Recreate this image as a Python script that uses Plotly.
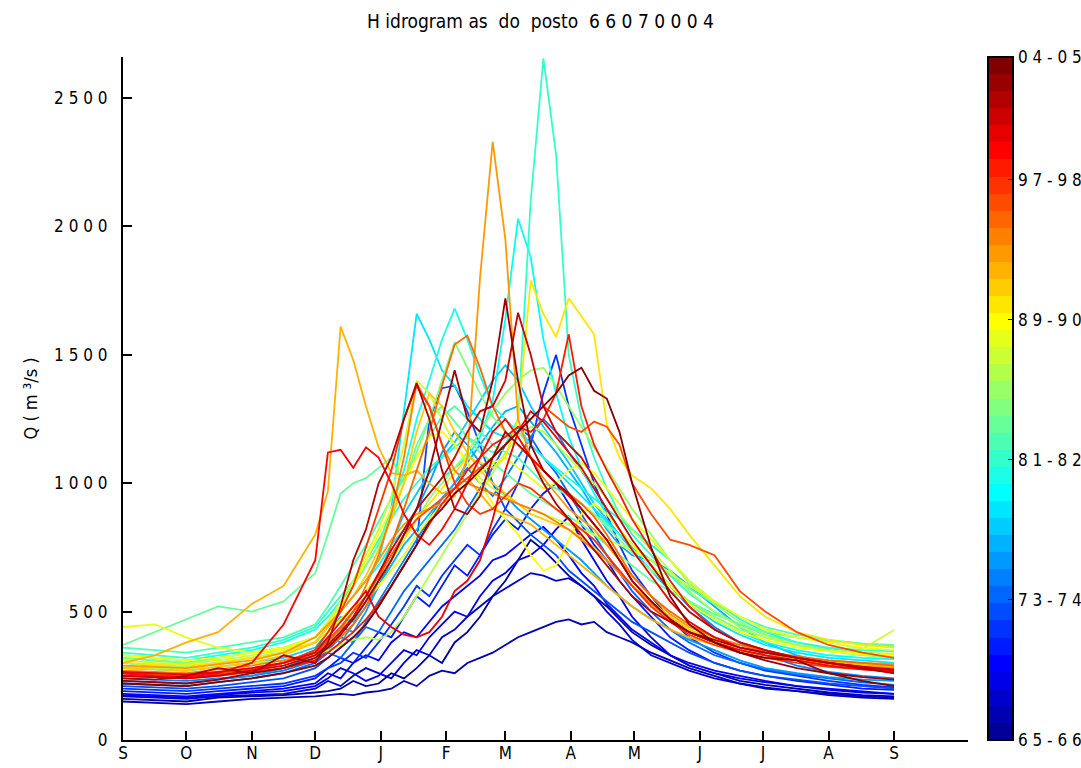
import math
import plotly.graph_objects as go

# ---------------- data ----------------
days = [0, 15, 30, 45, 61, 76, 91,
        97, 103, 109, 115, 121, 127, 133, 139, 145, 151, 157, 163, 169, 175, 181, 187,
        193, 199, 205, 211, 217, 223, 229, 235, 241,
        250, 259, 268, 280, 292, 304, 319, 334, 350, 365]

month_days = [0, 30, 61, 91, 122, 153, 181, 212, 242, 273, 303, 334, 365]
month_labels = ["S", "O", "N", "D", "J", "F", "M", "A", "M", "J", "J", "A", "S"]

y_ticks = [0, 500, 1000, 1500, 2000, 2500]
y_labels = ["0", "5 0 0", "1 0 0 0", "1 5 0 0", "2 0 0 0", "2 5 0 0"]

cb_ticks = [1, 9, 17, 25, 33, 40]
cb_labels = ["6 5 - 6 6", "7 3 - 7 4", "8 1 - 8 2", "8 9 - 9 0", "9 7 - 9 8", "0 4 - 0 5"]

q1965 = [160,155,150,165,170,175,185, 190,200,230,210,220,260,240,280,330,300,380,420,480,560,620,700,780,740,690,640,600,560,520,470,420, 370,330,290,260,230,215,200,185,175,170]
q1966 = [150,145,140,150,160,165,170, 175,180,175,185,190,200,230,210,250,270,260,300,320,340,370,400,420,440,460,470,450,460,420,400,380, 340,310,280,250,220,200,190,175,165,160]
q1967 = [170,165,160,170,175,180,200, 230,210,250,280,260,240,300,350,330,400,430,480,520,560,590,620,650,640,620,630,600,560,500,450,390, 330,300,270,240,220,205,190,180,170,165]
q1968 = [175,170,165,175,185,190,210, 240,280,260,230,250,300,350,330,400,450,500,480,560,620,650,700,720,760,820,870,780,700,620,560,480, 400,330,290,260,240,225,210,195,185,180]
q1969 = [180,175,170,180,190,200,220, 260,240,300,330,310,380,420,400,460,520,560,600,640,700,720,760,800,830,780,720,650,600,530,480,430, 380,330,300,270,250,230,210,200,190,180]
q1970 = [190,185,180,190,200,210,240, 280,320,300,360,420,400,480,560,520,600,680,640,720,800,860,820,900,960,1000,920,840,760,700,620,560, 480,400,350,300,270,250,230,215,200,195]
q1971 = [200,195,190,200,210,220,250, 280,300,340,320,380,450,520,600,560,640,700,760,720,820,900,1000,1150,1350,1500,1300,1150,1000,880,760,660, 560,470,400,340,300,270,250,230,215,205]
q1972 = [210,205,200,210,225,240,280, 320,360,400,450,520,600,680,760,1250,1370,1380,1280,1150,1000,900,850,800,760,720,660,620,580,540,500,460, 420,380,340,300,270,250,235,220,210,200]
q1973 = [220,215,210,225,240,260,300, 340,320,380,440,420,500,580,640,700,760,820,900,980,1060,1150,1220,1180,1100,1040,960,880,800,720,650,580, 500,430,380,330,300,275,255,240,225,215]
q1974 = [240,235,230,240,250,270,310, 350,400,380,460,540,620,700,780,860,940,1000,1060,1000,950,1020,1100,1180,1250,1200,1120,1050,980,900,820,760, 680,600,520,440,380,330,290,265,250,240]
q1975 = [230,225,220,235,250,280,330, 380,440,420,500,600,700,800,900,1000,1120,1200,1150,1080,1000,950,900,860,820,780,740,700,650,600,560,520, 470,430,390,350,310,280,260,245,235,230]
q1976 = [260,255,250,260,275,300,350, 400,380,450,520,600,680,760,820,880,940,1000,1080,1150,1220,1280,1300,1240,1180,1120,1050,980,900,820,760,720, 700,660,600,520,440,380,330,300,280,270]
q1977 = [280,275,270,285,300,320,360, 420,480,460,540,640,760,880,960,1040,1100,1160,1240,1320,1400,1460,1400,1300,1220,1150,1080,1000,920,860,800,740, 660,580,500,430,380,340,310,290,280,275]
q1978 = [300,290,285,300,320,340,380, 440,500,560,620,700,900,1280,1660,1560,1440,1380,1300,1250,1200,1180,1220,1150,1100,1050,1000,950,900,850,800,750, 680,600,530,460,410,370,340,320,310,300]
q1979 = [320,310,300,320,340,360,400, 450,500,560,620,680,760,820,900,960,1020,1060,1100,1180,1320,1640,2030,1880,1560,1350,1180,1060,960,880,820,760, 680,600,540,470,420,380,350,330,320,315]
q1980 = [330,320,310,330,350,380,430, 480,540,600,680,760,900,1050,1250,1400,1560,1680,1560,1420,1300,1250,1200,1150,1100,1060,1020,980,940,900,860,820, 760,700,620,540,470,420,380,355,340,330]
q1981 = [340,330,320,340,360,390,440, 500,560,620,700,780,860,940,1000,1060,1100,1140,1180,1150,1120,1150,1250,2100,2655,2280,1500,1250,1100,980,880,800, 720,640,570,500,450,410,380,360,350,345]
q1982 = [360,350,340,360,380,400,450, 520,600,680,760,850,940,1020,1100,1180,1260,1300,1250,1200,1150,1120,1100,1050,1000,980,950,920,880,840,800,760, 700,640,590,530,480,440,410,390,375,365]
q1983 = [370,420,470,520,500,540,650, 800,960,1000,1020,1060,1100,1000,1150,1250,1300,1240,1180,1120,1080,1040,1000,960,930,900,870,840,800,760,720,680, 620,580,540,490,450,420,400,385,375,370]
q1984 = [320,310,300,320,340,360,400, 460,520,600,680,760,880,1000,1120,1250,1400,1550,1450,1350,1260,1200,1150,1100,1050,1000,960,920,880,830,780,730, 660,600,540,480,430,400,370,350,335,325]
q1985 = [300,290,285,300,320,340,380, 420,460,500,560,620,700,780,860,940,1000,1060,1120,1200,1280,1350,1400,1440,1450,1380,1300,1220,1140,1060,980,900, 800,700,610,530,460,410,370,345,330,320]
q1986 = [290,280,275,285,300,310,330, 350,370,390,400,390,420,480,560,640,720,800,880,960,1040,1120,1180,1220,1200,1150,1100,1050,1000,940,880,820, 740,660,580,500,440,400,370,350,340,335]
q1987 = [310,300,295,310,330,350,400, 460,540,620,720,820,950,1150,1400,1350,1250,1150,1080,1020,980,950,920,900,880,860,840,820,800,780,760,740, 700,650,600,540,480,430,400,380,355,428]
q1988 = [440,450,400,360,340,350,380, 420,460,500,540,600,660,720,800,860,920,960,1000,1040,1080,1100,1060,1020,980,1000,1050,1080,1040,980,920,860, 780,700,620,540,480,430,400,380,360,350]
q1989 = [330,320,310,320,340,360,400, 450,520,600,700,800,900,1000,1100,1180,1200,1150,1080,1000,920,860,800,720,660,680,780,880,920,880,820,760, 680,600,530,470,420,390,360,345,335,330]
q1990 = [300,295,290,300,320,340,380, 420,470,520,580,640,700,780,860,920,980,1040,1100,1080,1060,1100,1250,1790,1660,1570,1720,1650,1580,1230,1100,1030, 980,900,800,680,560,480,420,390,370,360]
q1991 = [280,275,270,285,300,330,380, 440,500,560,640,740,860,1000,1200,1350,1300,1200,1120,1050,1000,960,920,880,860,840,820,790,750,700,650,600, 540,480,430,390,360,340,320,305,295,290]
q1992 = [300,330,380,420,530,600,800, 970,1610,1480,1300,1140,1040,1030,1050,1000,960,980,1020,960,900,880,860,840,800,760,720,680,640,600,560,520, 470,430,400,370,350,330,315,300,290,285]
q1993 = [290,285,280,295,310,340,400, 450,500,560,620,700,780,840,880,900,920,950,1100,1800,2330,1950,1250,1100,1020,960,900,860,820,760,700,640, 560,490,440,400,370,345,325,310,300,295]
q1994 = [270,265,260,275,290,310,340, 380,430,500,600,720,880,1100,1390,1300,1150,1050,1000,980,960,940,920,900,880,850,820,780,740,700,650,600, 530,470,420,380,350,330,310,295,285,280]
q1995 = [260,255,250,265,280,300,330, 360,400,450,520,620,760,900,1050,1200,1380,1540,1575,1450,1300,1200,1150,1100,1050,1000,960,920,870,800,720,640, 560,500,450,400,370,345,325,310,300,290]
q1996 = [260,255,250,260,275,300,340, 390,440,500,560,640,720,800,860,900,940,980,1020,1060,1100,1150,1200,1250,1300,1260,1220,1200,1240,1220,1150,1000, 880,780,760,720,580,500,420,370,340,320]
q1997 = [250,245,240,255,270,300,350, 420,500,600,750,900,1050,1250,1380,1300,1150,1000,920,880,900,950,1000,980,940,900,860,820,780,720,660,600, 520,460,410,370,340,320,300,285,275,270]
q1998 = [250,245,240,250,265,280,310, 340,380,420,470,530,600,680,760,840,920,980,1050,1100,1150,1180,1220,1200,1250,1350,1580,1300,1150,1050,960,860, 740,620,520,430,380,350,320,300,285,270]
q1999 = [260,250,245,260,300,450,700, 1120,1130,1060,1140,1100,1000,880,800,760,820,900,1000,1100,1200,1250,1180,1100,1050,1000,950,900,840,780,700,620, 540,470,420,380,350,330,310,290,275,265]
q2000 = [265,260,255,265,280,300,340, 400,460,520,580,480,440,410,400,420,480,580,620,700,860,1050,1200,1280,1240,1180,1120,1060,980,900,820,740, 640,540,460,400,360,340,320,300,285,270]
q2001 = [250,245,240,250,270,290,330, 370,420,480,560,650,740,820,900,960,1020,1100,1200,1280,1300,1400,1664,1500,1300,1200,1150,1100,1020,940,860,780, 680,580,500,430,380,350,320,300,285,275]
q2002 = [240,235,250,280,260,330,300, 380,520,700,820,1000,1100,1250,1390,1250,1050,900,880,950,1100,1200,1150,1100,1000,920,860,800,740,680,620,560, 500,460,420,390,360,340,320,300,280,260]
q2003 = [230,225,220,235,260,280,320, 360,410,470,540,620,700,800,900,1050,1250,1440,1250,1200,1400,1720,1400,1150,1050,1000,960,900,840,780,700,620, 540,470,420,380,340,310,280,260,245,235]
q2004 = [220,215,210,225,240,260,290, 320,360,400,450,520,600,680,760,850,900,960,1000,1050,1100,1150,1200,1250,1300,1350,1420,1450,1360,1330,1200,1000, 750,560,450,380,340,320,310,260,230,210]

series = [q1965, q1966, q1967, q1968, q1969, q1970, q1971, q1972, q1973, q1974,
          q1975, q1976, q1977, q1978, q1979, q1980, q1981, q1982, q1983, q1984,
          q1985, q1986, q1987, q1988, q1989, q1990, q1991, q1992, q1993, q1994,
          q1995, q1996, q1997, q1998, q1999, q2000, q2001, q2002, q2003, q2004]
start_years = list(range(1965, 2005))

for s in series:
    assert len(s) == len(days), len(s)


# ---------------- style ----------------
def jet(m):
    n = math.ceil(m / 4)
    u = [i / n for i in range(1, n + 1)] + [1.0] * (n - 1) + [i / n for i in range(n, 0, -1)]
    off = math.ceil(n / 2) - (1 if m % 4 == 1 else 0)
    g = [off + j for j in range(1, len(u) + 1)]
    r = [x + n for x in g]
    b = [x - n for x in g]
    J = [[0.0, 0.0, 0.0] for _ in range(m)]
    for j, val in enumerate(u):
        if 1 <= r[j] <= m:
            J[r[j] - 1][0] = val
        if 1 <= g[j] <= m:
            J[g[j] - 1][1] = val
        if 1 <= b[j] <= m:
            J[b[j] - 1][2] = val
    return ["rgb(%d,%d,%d)" % tuple(round(255 * c) for c in row) for row in J]


N = len(series)
cols = jet(N)
FONT = "Liberation Sans Narrow, Arial Narrow, DejaVu Sans Condensed, sans-serif"

fig = go.Figure()
for y0, vals, c in zip(start_years, series, cols):
    lab = "%02d-%02d" % (y0 % 100, (y0 + 1) % 100)
    fig.add_trace(go.Scatter(x=days, y=vals, mode="lines", name=lab,
                             line=dict(color=c, width=1.8), showlegend=False,
                             hoverinfo="name+x+y"))

colorscale = []
for k, c in enumerate(cols):
    colorscale.append([k / N, c])
    colorscale.append([(k + 1) / N, c])

fig.add_trace(go.Scatter(
    x=[None, None], y=[None, None], mode="markers", showlegend=False, hoverinfo="skip",
    marker=dict(color=[1, N], cmin=1, cmax=N, colorscale=colorscale, showscale=True,
                colorbar=dict(x=1 + (988 - 968) / 845, xanchor="left", xpad=0,
                              y=1, yanchor="top", ypad=0,
                              len=683, lenmode="pixels", thickness=25,
                              outlinewidth=2, outlinecolor="black",
                              tickmode="array", tickvals=cb_ticks, ticktext=cb_labels,
                              ticks="inside", ticklen=6, tickcolor="black",
                              tickfont=dict(family=FONT, size=17, color="black")))))

fig.update_layout(
    width=1081, height=768, autosize=False,
    margin=dict(l=123, r=113, t=57, b=28, autoexpand=False),
    paper_bgcolor="white", plot_bgcolor="white",
    title=dict(text="H idrogram as  do  posto  6 6 0 7 0 0 0 4", x=0.5, xanchor="center",
               y=1 - 21 / 768, yanchor="middle",
               font=dict(family=FONT, size=19, color="black")),
    xaxis=dict(range=[0, 400], tickmode="array", tickvals=month_days, ticktext=month_labels,
               ticks="inside", ticklen=9, tickwidth=1.5, tickcolor="black",
               showline=True, linewidth=2, linecolor="black", showgrid=False, zeroline=False,
               ticklabelstandoff=-3,
               tickfont=dict(family=FONT, size=17, color="black")),
    yaxis=dict(range=[0, 2660], tickmode="array", tickvals=y_ticks, ticktext=y_labels,
               ticks="inside", ticklen=9, tickwidth=1.5, tickcolor="black",
               showline=True, linewidth=2, linecolor="black", showgrid=False, zeroline=False,
               ticklabelstandoff=10,
               tickfont=dict(family=FONT, size=17, color="black")),
    annotations=[dict(text="Q ( m ³/s )", xref="paper", yref="paper",
                      x=(30 - 123) / 845, y=0.5, xanchor="center", yanchor="middle",
                      textangle=-90, showarrow=False,
                      font=dict(family=FONT, size=18, color="black"))],
)

fig.write_html("out.html")
